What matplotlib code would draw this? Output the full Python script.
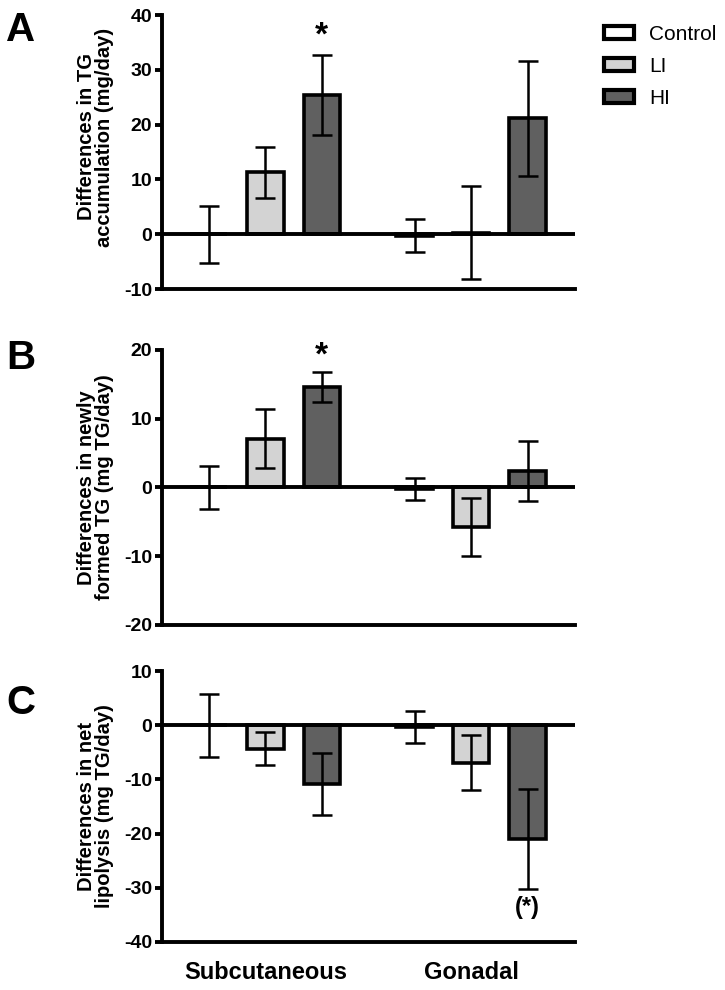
import matplotlib
matplotlib.use('Agg')
import matplotlib.pyplot as plt
from matplotlib.patches import Patch

plt.rcParams['font.family'] = ['Liberation Sans', 'DejaVu Sans']

groups = ['Control', 'LI', 'HI']
sites = ['Subcutaneous', 'Gonadal']
colors = ['white', '#d3d3d3', '#606060']

# bar order: Subcutaneous Control, LI, HI, Gonadal Control, LI, HI
tg_acc = [0.0, 11.3, 25.4, -0.3, 0.3, 21.2]
tg_acc_err = [5.2, 4.7, 7.3, 3.0, 8.5, 10.5]

new_tg = [0.0, 7.1, 14.6, -0.2, -5.7, 2.4]
new_tg_err = [3.1, 4.3, 2.2, 1.6, 4.2, 4.3]

lipolysis = [0.0, -4.3, -10.8, -0.3, -6.9, -21.0]
lipolysis_err = [5.8, 3.1, 5.7, 2.9, 5.1, 9.2]

x = [0, 1, 2, 3.64, 4.64, 5.64]

panels = [
    ('A', tg_acc, tg_acc_err, 'Differences in TG\naccumulation (mg/day)', (-10, 40), [40, 30, 20, 10, 0, -10]),
    ('B', new_tg, new_tg_err, 'Differences in newly\nformed TG (mg TG/day)', (-20, 20), [20, 10, 0, -10, -20]),
    ('C', lipolysis, lipolysis_err, 'Differences in net\nlipolysis (mg TG/day)', (-40, 10), [10, 0, -10, -20, -30, -40]),
]
# axes rectangles in figure fraction
rects = [
    [0.2234, 0.708, 0.5697, 0.2768],
    [0.2234, 0.3687, 0.5697, 0.2778],
    [0.2234, 0.0485, 0.5697, 0.2737],
]
letter_y = [0.970, 0.638, 0.290]
label_y = [0.555, 0.5, 0.5]

fig = plt.figure(figsize=(7.25, 9.9), dpi=100)

axes = []
for i, (letter, vals, errs, ylab, ylim, ticks) in enumerate(panels):
    ax = fig.add_axes(rects[i])
    ax.bar(x, vals, width=0.65, color=colors * 2, edgecolor='black', linewidth=2.6, zorder=2)
    ax.errorbar(x, vals, yerr=errs, fmt='none', ecolor='black', elinewidth=1.8,
                capsize=7, capthick=1.8, zorder=3)
    ax.axhline(0, color='black', linewidth=2.8, zorder=4)
    ax.set_xlim(-0.83, 6.48)
    ax.set_ylim(*ylim)
    ax.set_yticks(ticks)
    ax.set_yticklabels([str(t) for t in ticks], fontsize=14, fontweight='bold')
    ax.set_xticks([])
    for s in ['top', 'right']:
        ax.spines[s].set_visible(False)
    for s in ['left', 'bottom']:
        ax.spines[s].set_linewidth(2.8)
    ax.tick_params(axis='y', length=5, width=2.8, pad=2)
    ax.set_ylabel(ylab, fontsize=14.5, fontweight='bold', linespacing=0.95)
    ax.yaxis.set_label_coords(-0.115, label_y[i])
    fig.text(0.029, letter_y[i], letter, fontsize=29, fontweight='bold', ha='center', va='center')
    axes.append(ax)

# significance marks
axes[0].text(x[2], 33.3, '*', fontsize=24, fontweight='bold', ha='center', va='bottom')
axes[1].text(x[2], 16.8, '*', fontsize=24, fontweight='bold', ha='center', va='bottom')
axes[2].text(x[5], -33.7, '(*)', fontsize=17, fontweight='bold', ha='center', va='center')

# group labels
for xi, name in zip([1, 4.64], sites):
    axes[2].text(xi, -45.6, name, fontsize=17, fontweight='bold', ha='center', va='center')

handles = [Patch(facecolor=c, edgecolor='black', linewidth=3) for c in colors]
fig.legend(handles, groups, loc='upper left', bbox_to_anchor=(0.822, 0.983),
           frameon=False, fontsize=15, handlelength=1.45, handleheight=0.6,
           handletextpad=0.7, labelspacing=0.62, borderaxespad=0)

fig.savefig('out.png', dpi=100)
